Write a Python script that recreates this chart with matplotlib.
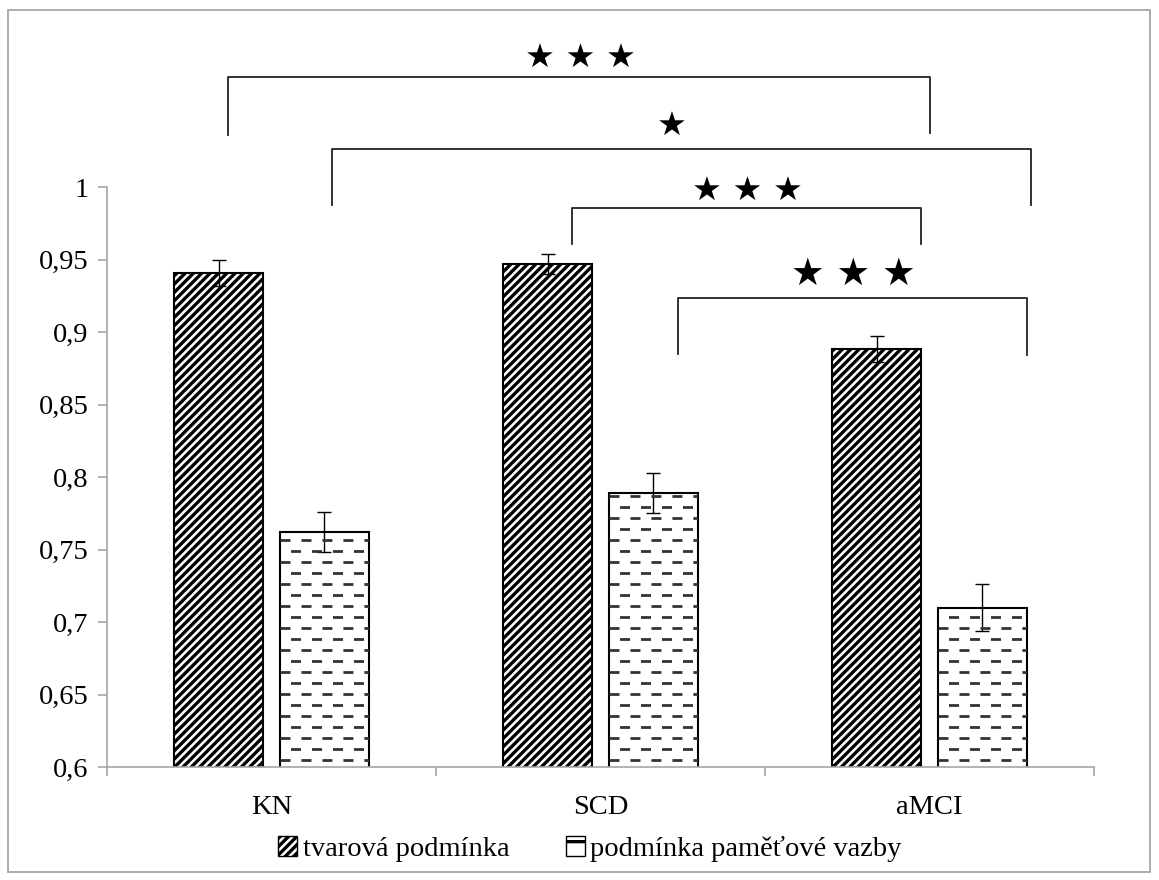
import matplotlib
matplotlib.use('Agg')
import matplotlib.pyplot as plt
import matplotlib.patches as mpatches
import numpy as np

groups = ['KN', 'SCD', 'aMCI']
series = ['tvarová podmínka', 'podmínka paměťové vazby']
tvar = [0.941, 0.947, 0.888]
tvar_err = [0.009, 0.007, 0.009]
pamet = [0.762, 0.789, 0.710]
pamet_err = [0.014, 0.014, 0.016]
yticks = [0.6, 0.65, 0.7, 0.75, 0.8, 0.85, 0.9, 0.95, 1.0]
ytick_labels = ['0,6', '0,65', '0,7', '0,75', '0,8', '0,85', '0,9', '0,95', '1']

# significance brackets: x left, x right, y of bar, y left foot, y right foot, stars, star x, star y, size
brackets = [
    (-0.132, 2.000, 1.0759, 1.0359, 1.0372, '★ ★ ★', 0.938, 1.0890, 24),
    (0.184, 2.308, 1.0262, 0.9876, 0.9876, '★', 1.217, 1.0420, 24),
    (0.913, 1.974, 0.9855, 0.9607, 0.9607, '★ ★ ★', 1.448, 0.9972, 24),
    (1.236, 2.296, 0.9234, 0.8848, 0.8841, '★ ★ ★', 1.767, 0.9392, 27),
]

plt.rcParams['hatch.linewidth'] = 2.4
plt.rcParams['lines.scale_dashes'] = False

fig = plt.figure(figsize=(11.59, 8.8), dpi=100)
ax = fig.add_axes([107 / 1159, 1 - 767 / 880, (1094 - 107) / 1159, (767 - 187) / 880])

grey = '#A6A6A6'
serif = 'Liberation Serif'
x = np.arange(len(groups))
w = 0.272
off = 0.161

b1 = ax.bar(x - off, tvar, w, color='white', edgecolor='black', linewidth=1.5,
            hatch='////', yerr=tvar_err, error_kw=dict(ecolor='black', elinewidth=1, capsize=5, capthick=1))
b2 = ax.bar(x + off, pamet, w, color='white', edgecolor='black', linewidth=1.5,
            yerr=pamet_err, error_kw=dict(ecolor='black', elinewidth=1, capsize=5, capthick=1))

ax.set_ylim(0.6, 1.0)
ax.set_xlim(-0.5, 2.5)

# dashed fill for the second series
step = 0.0076
for bar in b2:
    x0 = bar.get_x()
    x1 = x0 + bar.get_width()
    ys = np.arange(0.6 + step * 0.6, bar.get_height(), step)
    for i, yy in enumerate(ys):
        offset = 0 if i % 2 == 0 else 7.5
        ln, = ax.plot([x0, x1], [yy, yy], color='#333333', lw=2.0,
                      linestyle=(offset, (7.2, 7.9)), solid_capstyle='butt')
        ln.set_clip_path(bar)

# brackets and stars
for xl, xr, yb, yl, yr, stars, sx, sy, fs in brackets:
    ax.plot([xl, xl, xr, xr], [yl, yb, yb, yr], color='#222222', lw=1.3, clip_on=False)
    ax.text(sx, sy, stars, ha='center', va='center', fontsize=fs,
            family='DejaVu Sans', clip_on=False)

for s in ['top', 'right']:
    ax.spines[s].set_visible(False)
ax.spines['left'].set_color(grey)
ax.spines['bottom'].set_color(grey)
ax.spines['left'].set_linewidth(1.2)
ax.spines['bottom'].set_linewidth(1.2)

ax.set_yticks(yticks)
ax.set_yticklabels(ytick_labels, family=serif, fontsize=20.5)
ax.tick_params(axis='y', direction='out', length=6.5, color=grey, width=1.2, pad=7)

ax.set_xticks(x)
ax.set_xticklabels(groups, family=serif, fontsize=20.5)
ax.set_xticks([-0.5, 0.5, 1.5, 2.5], minor=True)
ax.tick_params(axis='x', which='major', length=0, pad=20)
ax.tick_params(axis='x', which='minor', direction='out', length=6.5, color=grey, width=1.2)

h1 = mpatches.Patch(facecolor='white', edgecolor='black', hatch='////', label=series[0])
h2 = mpatches.Patch(facecolor='white', edgecolor='black', hatch='-', label=series[1])
fig.legend(handles=[h1, h2], loc='center', bbox_to_anchor=(590 / 1159, 1 - 849 / 880),
           ncol=2, frameon=False, prop=dict(family=serif, size=20.5),
           handlelength=0.65, handleheight=0.65, handletextpad=0.2, columnspacing=2.0)

fig.patches.append(mpatches.Rectangle((8 / 1159, 1 - 872 / 880), (1150 - 8) / 1159, (872 - 10) / 880,
                                      transform=fig.transFigure, fill=False,
                                      edgecolor=grey, linewidth=1.3))

fig.savefig('out.png', dpi=100)
